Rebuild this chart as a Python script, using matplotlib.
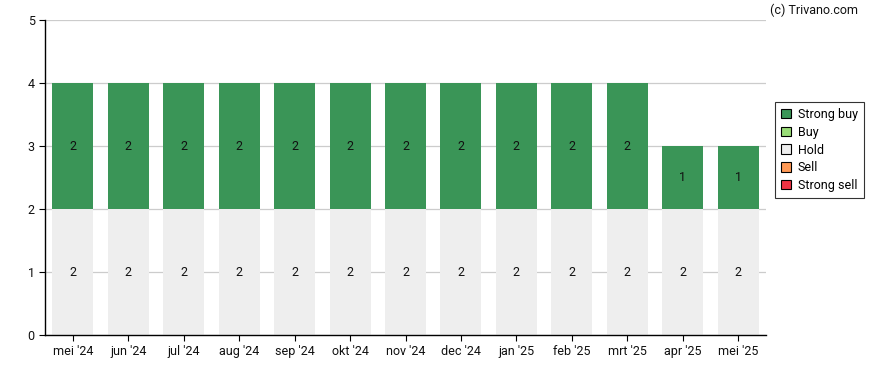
import matplotlib
matplotlib.use("Agg")
import matplotlib.pyplot as plt
from matplotlib.patches import Patch

plt.rcParams['font.family'] = ['Roboto', 'DejaVu Sans']

months = ["mei '24", "jun '24", "jul '24", "aug '24", "sep '24", "okt '24", "nov '24",
          "dec '24", "jan '25", "feb '25", "mrt '25", "apr '25", "mei '25"]
strong_buy = [2, 2, 2, 2, 2, 2, 2, 2, 2, 2, 2, 1, 1]
buy = [0] * 13
hold = [2] * 13
sell = [0] * 13
strong_sell = [0] * 13

series = [
    ("Hold", hold, "#eeeeee"),
    ("Buy", buy, "#99dd77"),
    ("Strong buy", strong_buy, "#3a9557"),
    ("Sell", sell, "#ff9955"),
    ("Strong sell", strong_sell, "#ee3344"),
]

FS = 9

fig = plt.figure(figsize=(8.88, 3.7), dpi=100)
ax = fig.add_axes([45/888, 35/370, (766-45)/888, (335-20)/370])

x = list(range(len(months)))
bottom = [0] * len(months)
for name, vals, col in series:
    ax.bar(x, vals, bottom=bottom, width=0.74, color=col, zorder=2)
    for i, v in enumerate(vals):
        if v > 0:
            ax.text(i, bottom[i] + v / 2, str(v), ha='center', va='center',
                    fontsize=FS, color='#111111', zorder=3)
    bottom = [b + v for b, v in zip(bottom, vals)]

ax.set_xlim(-0.5, len(months) - 0.5)
ax.set_ylim(0, 5)
ax.set_yticks([0, 1, 2, 3, 4, 5])
ax.set_xticks(x)
ax.set_xticklabels(months)
ax.tick_params(axis='both', labelsize=FS, length=4, color='black', labelcolor='#111111')
ax.grid(axis='y', color='#cccccc', linewidth=0.9, zorder=0)
ax.set_axisbelow(True)
for s in ['top', 'right']:
    ax.spines[s].set_visible(False)
for s in ['left', 'bottom']:
    ax.spines[s].set_color('black')
    ax.spines[s].set_linewidth(1)

handles = [
    Patch(facecolor="#3a9557", edgecolor='black', linewidth=0.8, label='Strong buy'),
    Patch(facecolor="#99dd77", edgecolor='black', linewidth=0.8, label='Buy'),
    Patch(facecolor="#eeeeee", edgecolor='black', linewidth=0.8, label='Hold'),
    Patch(facecolor="#ff9955", edgecolor='black', linewidth=0.8, label='Sell'),
    Patch(facecolor="#ee3344", edgecolor='black', linewidth=0.8, label='Strong sell'),
]
leg = fig.legend(handles=handles, loc='center left', bbox_to_anchor=(775/888, 1 - 150/370),
                 fontsize=FS, frameon=True, fancybox=False, handlelength=0.8, handleheight=0.8,
                 handletextpad=0.5, labelspacing=0.38, borderpad=0.5, borderaxespad=0)
leg.get_frame().set_edgecolor('black')
leg.get_frame().set_linewidth(0.8)

fig.text(858/888, 1 - 10/370, "(c) Trivano.com", ha='right', va='center', fontsize=FS, color='#111111')

fig.savefig("out.png", dpi=100)
